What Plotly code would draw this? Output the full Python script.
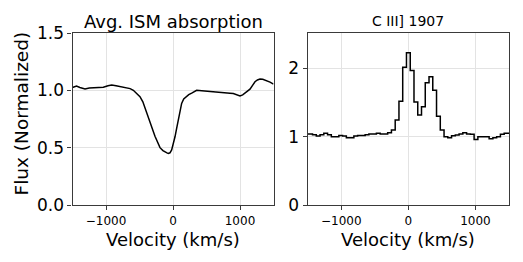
import plotly.graph_objects as go

# Left panel: averaged ISM absorption profile
ism_velocity = [-1500, -1440, -1390, -1350, -1313, -1250, -1189, -1100, -1040, -970, -915,
                -850, -791, -740, -692, -640, -592, -540, -493, -450, -418, -390, -368,
                -340, -318, -290, -269, -230, -194, -150, -119, -90, -70, -45, -20, 5,
                30, 55, 80, 105, 129, 160, 194, 235, 279, 320, 353, 430, 502, 580, 652,
                730, 801, 850, 900, 950, 1000, 1040, 1074, 1110, 1149, 1190, 1224, 1260,
                1299, 1340, 1373, 1410, 1448, 1500]
ism_flux = [1.025, 1.037, 1.025, 1.015, 1.012, 1.02, 1.022, 1.025, 1.027, 1.04, 1.046,
            1.04, 1.032, 1.025, 1.02, 1.015, 1.0, 0.968, 0.945, 0.90, 0.85, 0.81, 0.77,
            0.72, 0.68, 0.635, 0.60, 0.54, 0.50, 0.475, 0.462, 0.455, 0.45, 0.455, 0.48, 0.53,
            0.595, 0.67, 0.745, 0.82, 0.886, 0.925, 0.945, 0.962, 0.975, 0.99, 1.0, 0.997, 0.994,
            0.992, 0.988, 0.983, 0.978, 0.975, 0.972, 0.962, 0.952, 0.96, 0.975, 0.99, 1.01,
            1.045, 1.075, 1.09, 1.098, 1.097, 1.09, 1.084, 1.072, 1.055]

# Right panel: C III] 1907 emission, binned spectrum (bin centres, km/s)
bin_width = 56
ciii_bins = list(range(-27, 28))
ciii_velocity = [k * bin_width for k in ciii_bins]
ciii_flux = [1.04, 1.04, 1.03, 1.01, 1.03, 1.05, 1.03, 1.00, 1.00, 1.02, 1.01, 0.985,
             0.985, 1.01, 1.02, 1.02, 1.03, 1.04, 1.04, 1.05, 1.04, 1.04, 1.06,
             1.10, 1.245, 1.52, 2.02, 2.23, 1.97, 1.51, 1.32, 1.44, 1.79, 1.88, 1.68,
             1.30, 1.10, 1.00, 0.985, 1.015, 1.025, 1.04, 1.06, 1.04, 1.035, 0.96, 1.0,
             1.0, 1.0, 0.97, 0.985, 1.0, 1.035, 1.05, 1.05]

x_ticks = [-1000, 0, 1000]
left_y_ticks = [0.0, 0.5, 1.0, 1.5]
right_y_ticks = [0, 1, 2]

FONT = "DejaVu Sans"
SPINE = "#3a3a3a"
GRID = "#e3e3e3"

fig = go.Figure()
fig.add_trace(go.Scatter(x=ism_velocity, y=ism_flux, mode="lines",
                         line=dict(color="black", width=1.5), xaxis="x", yaxis="y",
                         showlegend=False))
fig.add_trace(go.Scatter(x=ciii_velocity, y=ciii_flux, mode="lines",
                         line=dict(color="black", width=1.5, shape="hvh"),
                         xaxis="x2", yaxis="y2", showlegend=False))

W, H = 523, 262
OFF = 8  # page body margin offset compensation (pixels)


def px(x):
    return (x - OFF) / W


def py(y):
    return 1 - (y - OFF) / H


yd = [py(205), py(33)]
axis_common = dict(showline=True, mirror=True, linecolor=SPINE, linewidth=1.2,
                   ticks="outside", ticklen=4, tickwidth=1, tickcolor=SPINE,
                   showgrid=True, gridcolor=GRID, gridwidth=1, zeroline=False,
                   automargin=False)

fig.update_layout(
    width=W, height=H, margin=dict(l=0, r=0, t=0, b=0, pad=0, autoexpand=False),
    paper_bgcolor="white", plot_bgcolor="white",
    font=dict(family=FONT, color="black"),
    xaxis=dict(domain=[px(72.5), px(273.5)], range=[-1500, 1500], tickvals=x_ticks,
               tickfont=dict(size=12), anchor="y", **axis_common),
    yaxis=dict(domain=yd, range=[0, 1.5], tickvals=left_y_ticks, tickformat=".1f",
               tickfont=dict(size=17), anchor="x", **axis_common),
    xaxis2=dict(domain=[px(307.7), px(509)], range=[-1500, 1500], tickvals=x_ticks,
                tickfont=dict(size=12), anchor="y2", **axis_common),
    yaxis2=dict(domain=yd, range=[0, 2.52], tickvals=right_y_ticks,
                tickfont=dict(size=17), anchor="x2", **axis_common),
    annotations=[
        dict(text="Avg. ISM absorption", x=px(173), y=py(21), xref="paper", yref="paper",
             showarrow=False, font=dict(size=18), xanchor="center", yanchor="middle"),
        dict(text="C III] 1907", x=px(408.3), y=py(21), xref="paper", yref="paper",
             showarrow=False, font=dict(size=14), xanchor="center", yanchor="middle"),
        dict(text="Flux (Normalized)", x=px(20.5), y=py(114), xref="paper", yref="paper",
             showarrow=False, font=dict(size=18.5), textangle=-90,
             xanchor="center", yanchor="middle"),
        dict(text="Velocity (km/s)", x=px(173), y=py(239), xref="paper", yref="paper",
             showarrow=False, font=dict(size=18), xanchor="center", yanchor="middle"),
        dict(text="Velocity (km/s)", x=px(408.3), y=py(239), xref="paper", yref="paper",
             showarrow=False, font=dict(size=18), xanchor="center", yanchor="middle"),
    ],
)

fig.write_html("out.html")
